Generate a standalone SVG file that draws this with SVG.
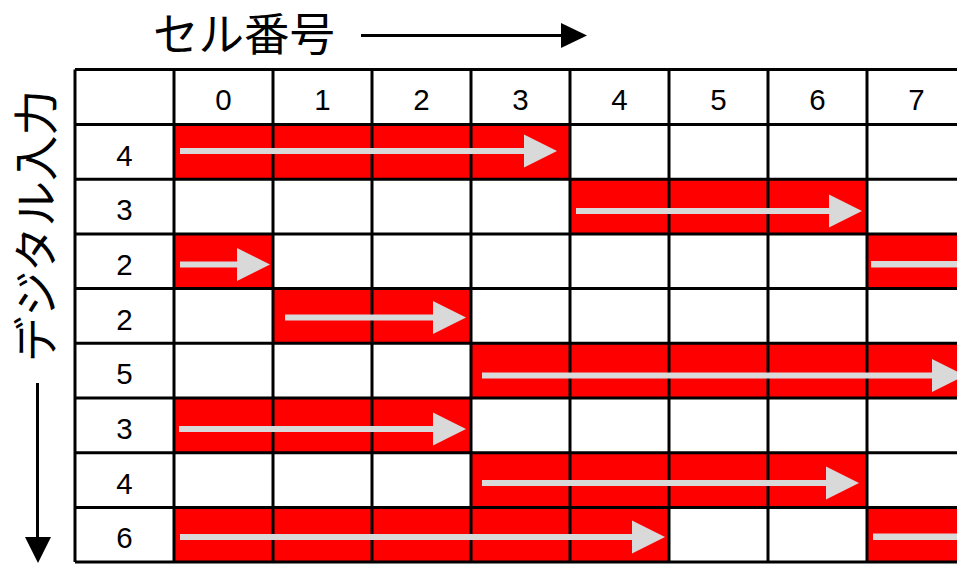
<svg xmlns="http://www.w3.org/2000/svg" width="957" height="564" viewBox="0 0 957 564">
<style>
.jp{font-family:"Noto Sans CJK JP","Noto Sans CJK SC",sans-serif;font-size:45.5px;fill:#000}
.num{font-family:"Liberation Sans",Arial,sans-serif;font-size:29.5px;fill:#000;text-anchor:middle}
.cell{fill:#ff0000}
.grid{stroke:#000;stroke-width:3;fill:none}
.arr{fill:#d9d9d9}
</style>
<rect width="957" height="564" fill="#fff"/>
<g id="title">
<text class="jp" x="153" y="51">セル番号</text>
<line x1="361" y1="35.5" x2="563" y2="35.5" stroke="#000" stroke-width="3"/>
<polygon points="561,23 587,35.5 561,48" fill="#000"/>
</g>
<g id="side-label">
<text class="jp" transform="translate(53,226) rotate(-90)" text-anchor="middle">デジタル入力</text>
<line x1="37.5" y1="383" x2="37.5" y2="540" stroke="#000" stroke-width="3"/>
<polygon points="25,537 51,537 38,563" fill="#000"/>
</g>
<g id="cells">
<rect class="cell" x="174" y="124.5" width="396" height="54.7"/>
<rect class="cell" x="570" y="179.2" width="297" height="54.7"/>
<rect class="cell" x="174" y="233.9" width="99" height="54.7"/>
<rect class="cell" x="867" y="233.9" width="95" height="54.7"/>
<rect class="cell" x="273" y="288.6" width="198" height="54.7"/>
<rect class="cell" x="471" y="343.3" width="491" height="54.7"/>
<rect class="cell" x="174" y="398" width="297" height="54.7"/>
<rect class="cell" x="471" y="452.7" width="396" height="54.7"/>
<rect class="cell" x="174" y="507.4" width="495" height="54.7"/>
<rect class="cell" x="867" y="507.4" width="95" height="54.7"/>
</g>
<g id="grid" class="grid">
<path d="M75 69.5H962M75 124.5H962M75 179.2H962M75 233.9H962M75 288.6H962M75 343.3H962M75 398H962M75 452.7H962M75 507.4H962M75 562.1H962"/>
<path d="M75 69.5V562.1M174 69.5V562.1M273 69.5V562.1M372 69.5V562.1M471 69.5V562.1M570 69.5V562.1M669 69.5V562.1M768 69.5V562.1M867 69.5V562.1"/>
</g>
<g id="header">
<text class="num" x="223.5" y="110">0</text>
<text class="num" x="322.5" y="110">1</text>
<text class="num" x="421.5" y="110">2</text>
<text class="num" x="520.5" y="110">3</text>
<text class="num" x="619.5" y="110">4</text>
<text class="num" x="718.5" y="110">5</text>
<text class="num" x="817.5" y="110">6</text>
<text class="num" x="916.5" y="110">7</text>
</g>
<g id="row-labels">
<text class="num" x="124.5" y="165.5">4</text>
<text class="num" x="124.5" y="220.2">3</text>
<text class="num" x="124.5" y="274.9">2</text>
<text class="num" x="124.5" y="329.6">2</text>
<text class="num" x="124.5" y="384.3">5</text>
<text class="num" x="124.5" y="439">3</text>
<text class="num" x="124.5" y="493.7">4</text>
<text class="num" x="124.5" y="548.4">6</text>
</g>
<g id="connectors" class="arr">
<path d="M180 148H524V134.5L557 151L524 167.5V154H180Z"/>
<path d="M576 208H829V194.5L862 211L829 227.5V214H576Z"/>
<path d="M180 261.5H237V248L270 264.5L237 281V267.5H180Z"/>
<rect x="871" y="261" width="90" height="6.5"/>
<path d="M285 314.5H433V301L466 317.5L433 334V320.5H285Z"/>
<path d="M482 372.5H932V359L965 375.5L932 392V378.5H482Z"/>
<path d="M179 426H433V412.5L466 429L433 445.5V432H179Z"/>
<path d="M482 480H826V466.5L859 483L826 499.5V486H482Z"/>
<path d="M180 534H632V520.5L665 537L632 553.5V540H180Z"/>
<rect x="873" y="533.5" width="90" height="6.5"/>
</g>
</svg>
